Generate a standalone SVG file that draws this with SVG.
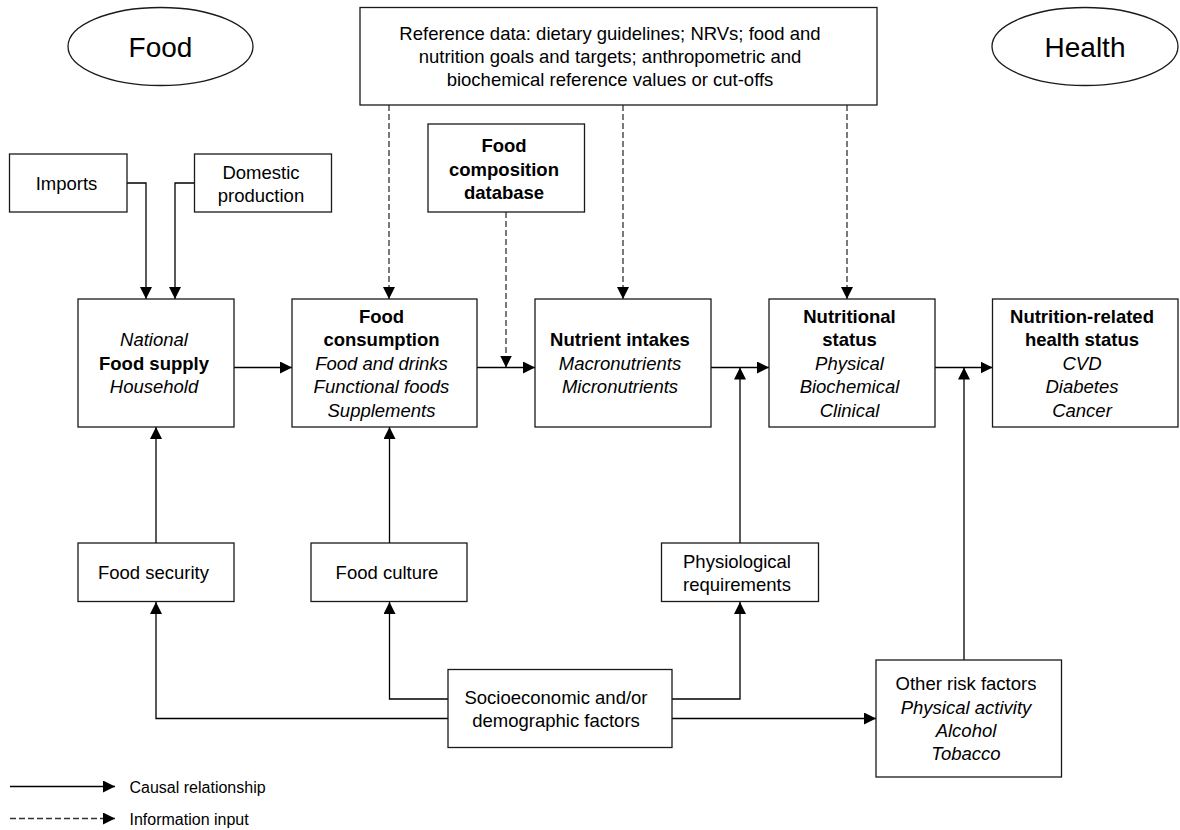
<svg xmlns="http://www.w3.org/2000/svg" width="1180" height="830" viewBox="0 0 1180 830">
<style>
  text { font-family: "Liberation Sans", Arial, sans-serif; font-size: 18.5px; fill: #000; text-anchor: middle; }
  .b { font-weight: bold; }
  .i { font-style: italic; }
  .big { font-size: 28px; }
  .leg { font-size: 16px; text-anchor: start; }
  .box { fill: #fff; stroke: #1a1a1a; stroke-width: 1.3; }
  .c { fill: none; stroke: #000; stroke-width: 1.3; marker-end: url(#ah); }
  .d { fill: none; stroke: #333; stroke-width: 1.3; stroke-dasharray: 6 3; marker-end: url(#ah); }
</style>
<defs>
  <marker id="ah" markerUnits="userSpaceOnUse" markerWidth="12" markerHeight="12" refX="12" refY="6" orient="auto">
    <path d="M0,0 L12,6 L0,12 z" fill="#000"/>
  </marker>
</defs>
<rect width="1180" height="830" fill="#fff"/>

<g id="connectors">
  <path class="c" d="M127,183 H146 V299"/>
  <path class="c" d="M194,183 H175 V299"/>
  <path class="d" d="M389,105 V299"/>
  <path class="d" d="M623,105 V299"/>
  <path class="d" d="M847,105 V299"/>
  <path class="d" d="M506,212 V367.5"/>
  <path class="c" d="M234,367.5 H292"/>
  <path class="c" d="M477,367.5 H535"/>
  <path class="c" d="M711,367.5 H769"/>
  <path class="c" d="M935,367.5 H992.5"/>
  <path class="c" d="M156,543 V427"/>
  <path class="c" d="M389.5,543 V427"/>
  <path class="c" d="M740,543 V367.5"/>
  <path class="c" d="M964,660 V367.5"/>
  <path class="c" d="M448,699 H389.5 V602"/>
  <path class="c" d="M448,718.5 H156 V602"/>
  <path class="c" d="M672,699 H740 V602"/>
  <path class="c" d="M672,718.5 H876"/>
</g>

<g id="food-label">
  <ellipse cx="160.5" cy="46.5" rx="92.5" ry="39" class="box"/>
  <text class="big" x="160.5" y="57">Food</text>
</g>
<g id="health-label">
  <ellipse cx="1085" cy="46.5" rx="93" ry="39" class="box"/>
  <text class="big" x="1085" y="57">Health</text>
</g>

<g id="reference-data">
  <rect class="box" x="360" y="7.5" width="517" height="97.5"/>
  <text x="610" y="40">Reference data: dietary guidelines; NRVs; food and</text>
  <text x="610" y="63">nutrition goals and targets; anthropometric and</text>
  <text x="610" y="86">biochemical reference values or cut-offs</text>
</g>

<g id="imports">
  <rect class="box" x="9.5" y="154" width="117.5" height="58"/>
  <text x="66.5" y="190">Imports</text>
</g>
<g id="domestic-production">
  <rect class="box" x="194.5" y="154" width="137" height="58"/>
  <text x="261" y="179">Domestic</text>
  <text x="261" y="202">production</text>
</g>
<g id="food-composition-database">
  <rect class="box" x="428" y="124" width="156.5" height="88"/>
  <text class="b" x="504" y="152">Food</text>
  <text class="b" x="504" y="175.5">composition</text>
  <text class="b" x="504" y="199">database</text>
</g>

<g id="food-supply">
  <rect class="box" x="78" y="299" width="156" height="128"/>
  <text class="i" x="154" y="346">National</text>
  <text class="b" x="154" y="369.5">Food supply</text>
  <text class="i" x="154" y="393">Household</text>
</g>
<g id="food-consumption">
  <rect class="box" x="292" y="299" width="185" height="128"/>
  <text class="b" x="381.5" y="322.5">Food</text>
  <text class="b" x="381.5" y="346">consumption</text>
  <text class="i" x="381.5" y="369.5">Food and drinks</text>
  <text class="i" x="381.5" y="393">Functional foods</text>
  <text class="i" x="381.5" y="416.5">Supplements</text>
</g>
<g id="nutrient-intakes">
  <rect class="box" x="535" y="299" width="176" height="128"/>
  <text class="b" x="620" y="346">Nutrient intakes</text>
  <text class="i" x="620" y="369.5">Macronutrients</text>
  <text class="i" x="620" y="393">Micronutrients</text>
</g>
<g id="nutritional-status">
  <rect class="box" x="769" y="299" width="166" height="128"/>
  <text class="b" x="849.5" y="322.5">Nutritional</text>
  <text class="b" x="849.5" y="346">status</text>
  <text class="i" x="849.5" y="369.5">Physical</text>
  <text class="i" x="849.5" y="393">Biochemical</text>
  <text class="i" x="849.5" y="416.5">Clinical</text>
</g>
<g id="nutrition-related-health-status">
  <rect class="box" x="992.5" y="299" width="185.5" height="128"/>
  <text class="b" x="1082" y="322.5">Nutrition-related</text>
  <text class="b" x="1082" y="346">health status</text>
  <text class="i" x="1082" y="369.5">CVD</text>
  <text class="i" x="1082" y="393">Diabetes</text>
  <text class="i" x="1082" y="416.5">Cancer</text>
</g>

<g id="food-security">
  <rect class="box" x="78" y="543" width="156" height="58.5"/>
  <text x="153.5" y="579">Food security</text>
</g>
<g id="food-culture">
  <rect class="box" x="311" y="543" width="156" height="58.5"/>
  <text x="387" y="579">Food culture</text>
</g>
<g id="physiological-requirements">
  <rect class="box" x="661.5" y="543" width="157" height="58.5"/>
  <text x="737" y="568">Physiological</text>
  <text x="737" y="590.5">requirements</text>
</g>
<g id="socioeconomic-factors">
  <rect class="box" x="448" y="669.5" width="224" height="78"/>
  <text x="556" y="704">Socioeconomic and/or</text>
  <text x="556" y="727">demographic factors</text>
</g>
<g id="other-risk-factors">
  <rect class="box" x="876" y="660" width="185.5" height="117"/>
  <text x="966" y="690">Other risk factors</text>
  <text class="i" x="966" y="713.5">Physical activity</text>
  <text class="i" x="966" y="736.5">Alcohol</text>
  <text class="i" x="966" y="759.5">Tobacco</text>
</g>

<g id="legend">
  <path class="c" d="M10,786.5 H115"/>
  <text class="leg" x="129.5" y="792.5">Causal relationship</text>
  <path class="d" d="M10,818.5 H115"/>
  <text class="leg" x="129.5" y="825">Information input</text>
</g>
</svg>
